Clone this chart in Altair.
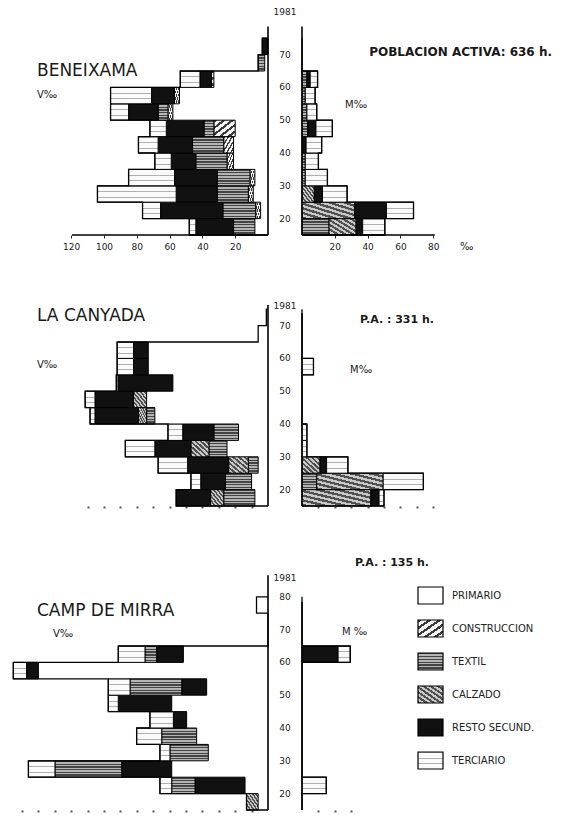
import json
import altair as alt
import pandas as pd

FONT = "DejaVu Sans"

# ---------------- data (per mil of the active population) ----------------
SECTORS = ["PRIMARIO", "CONSTRUCCION", "TEXTIL", "CALZADO", "RESTO SECUND.", "TERCIARIO"]

ORDER_STD = ["PRIMARIO", "CONSTRUCCION", "TEXTIL", "CALZADO", "RESTO SECUND.", "TERCIARIO"]
ORDER_CAMP = ["PRIMARIO", "CONSTRUCCION", "CALZADO", "RESTO SECUND.", "TEXTIL", "TERCIARIO"]

# lower bound of each five-year age group
AGES_BEN = [15, 20, 25, 30, 35, 40, 45, 50, 55, 60, 65, 70]
AGES_CAN = [15, 20, 25, 30, 35, 40, 45, 50, 55, 60, 65, 70]
AGES_CAM = [15, 20, 25, 30, 35, 40, 45, 50, 55, 60, 65, 70, 75]

BEN_V = {
    "PRIMARIO":      [8, 4.5, 9, 8, 21, 21, 20, 58, 54, 33, 2, 0],
    "CONSTRUCCION":  [0, 3, 3, 3, 4, 6, 13, 3, 3, 1.5, 0, 0],
    "TEXTIL":        [13, 20, 19, 20, 19, 19, 6, 6, 0, 0, 4, 0],
    "CALZADO":       [0, 0, 0, 0, 0, 0, 0, 0, 0, 0, 0, 0],
    "RESTO SECUND.": [23, 38, 25, 26, 15, 21, 23, 18, 14, 7, 0, 3.5],
    "TERCIARIO":     [4, 11, 48, 28, 10, 12, 10, 11, 25, 12, 0, 0],
}
BEN_M = {
    "PRIMARIO":      [0, 0, 0, 0, 0, 0, 0, 0, 0, 0, 0, 0],
    "CONSTRUCCION":  [0, 0, 0, 0, 0, 0, 0, 0, 0, 0, 0, 0],
    "TEXTIL":        [16.5, 0, 0, 2, 2, 0, 3.5, 3, 2, 3, 0, 0],
    "CALZADO":       [16.5, 32, 7.5, 0, 0, 0, 0, 0, 0, 0, 0, 0],
    "RESTO SECUND.": [4, 19.5, 5, 0, 0, 2.5, 5, 0, 0, 2, 0, 0],
    "TERCIARIO":     [13.5, 16.5, 15, 13.5, 8, 9.5, 10, 6, 6, 4.5, 0, 0],
}
CAN_V = {
    "PRIMARIO":      [8, 10, 6, 25, 18, 69, 74, 58, 73, 73, 6, 1],
    "CONSTRUCCION":  [0, 0, 0, 0, 0, 0, 0, 0, 0, 0, 0, 0],
    "TEXTIL":        [19, 16, 6, 11, 15, 5, 0, 0, 0, 0, 0, 0],
    "CALZADO":       [8, 0, 12, 11, 0, 5, 8, 0, 0, 0, 0, 0],
    "RESTO SECUND.": [21, 15, 25, 22, 19, 26.5, 23.5, 33.5, 9, 9, 0, 0],
    "TERCIARIO":     [0, 6, 18, 18, 9, 3, 6, 1, 10, 10, 0, 0],
}
CAN_M = {
    "PRIMARIO":      [0, 0, 0, 0, 0, 0, 0, 0, 0, 0, 0, 0],
    "CONSTRUCCION":  [0, 0, 0, 0, 0, 0, 0, 0, 0, 0, 0, 0],
    "TEXTIL":        [0, 9, 0, 0, 0, 0, 0, 0, 0, 0, 0, 0],
    "CALZADO":       [42, 40.5, 11, 0, 0, 0, 0, 0, 0, 0, 0, 0],
    "RESTO SECUND.": [5, 0, 4, 0, 0, 0, 0, 0, 0, 0, 0, 0],
    "TERCIARIO":     [3, 24.5, 13, 3, 3, 0, 0, 0, 7, 0, 0, 0],
}
CAM_V = {
    "PRIMARIO":      [6, 14, 58.7, 36.4, 43.5, 49.6, 58.7, 37.4, 140, 51.6, 0, 0, 7],
    "CONSTRUCCION":  [0, 0, 0, 0, 0, 0, 0, 0, 0, 0, 0, 0, 0],
    "TEXTIL":        [0, 14.2, 40.7, 23.4, 21.3, 0, 0, 31.5, 0, 7.1, 0, 0, 0],
    "CALZADO":       [7.1, 0, 0, 0, 0, 0, 0, 0, 0, 0, 0, 0, 0],
    "RESTO SECUND.": [0, 30.5, 30.5, 0, 0, 8.1, 32.6, 15.2, 7.2, 16.3, 0, 0, 0],
    "TERCIARIO":     [0, 7.2, 16.2, 6.1, 15.3, 14.3, 6.1, 13.3, 8.1, 16.3, 0, 0, 0],
}
CAM_M = {
    "PRIMARIO":      [0, 0, 0, 0, 0, 0, 0, 0, 0, 0, 0, 0, 0],
    "CONSTRUCCION":  [0, 0, 0, 0, 0, 0, 0, 0, 0, 0, 0, 0, 0],
    "TEXTIL":        [0, 0, 0, 0, 0, 0, 0, 0, 0, 0, 0, 0, 0],
    "CALZADO":       [0, 0, 0, 0, 0, 0, 0, 0, 0, 0, 0, 0, 0],
    "RESTO SECUND.": [0, 0, 0, 0, 0, 0, 0, 0, 0, 22, 0, 0, 0],
    "TERCIARIO":     [0, 14.8, 0, 0, 0, 0, 0, 0, 0, 7.4, 0, 0, 0],
}

AGE_LABELS_70 = [20, 30, 40, 50, 60, 70]
AGE_LABELS_80 = [20, 30, 40, 50, 60, 70, 80]

# age at the top of the two central vertical axes (male, female)
AXIS_TOP = {"ben": (78.6, 78.6), "can": (76.3, 73.8), "cam": (86.6, 78.4)}
# Beneixama x baselines (per mil) and tick labels
BEN_BASE = (119.5, 81)
BEN_TICKS_V = [20, 40, 60, 80, 100, 120]
BEN_TICKS_M = [20, 40, 60, 80]
CAN_DOTS_V = [10, 20, 30, 40, 50, 60, 70, 80, 90, 100, 110]
CAN_DOTS_M = [10, 20, 30, 40, 50, 60, 70, 80]
CAM_DOTS_V = [10, 20, 30, 40, 50, 60, 70, 80, 90, 100, 110, 120, 130, 140, 150]
CAM_DOTS_M = [10, 20, 30]

# ---------------- styles: hatched fills emulated with hard-stop gradients ----------------
def stripes(c1, c2, n, frac, x1, y1, x2, y2):
    stops = []
    for i in range(n):
        a, b = i / n, (i + frac) / n
        stops += [{"offset": round(a, 4), "color": c1}, {"offset": round(b, 4), "color": c1},
                  {"offset": round(b, 4), "color": c2}, {"offset": round((i + 1) / n, 4), "color": c2}]
    g = {"gradient": "linear", "x1": x1, "y1": y1, "x2": x2, "y2": y2, "stops": stops}
    return alt.ExprRef(json.dumps(g))


FILL_RANGE = [
    "#ffffff",                                               # primario
    stripes("#3a3a3a", "#f4f4f4", 5, 0.4, 0, 0, 1, 1),       # construccion  ///
    stripes("#444444", "#b4b4b4", 6, 0.5, 0, 0, 0, 1),       # textil  horizontal lines
    stripes("#505050", "#c8c8c8", 7, 0.5, 0, 1, 1, 0),       # calzado  \\\ fine
    "#111111",                                               # resto secundario
    stripes("#b0b0b0", "#fafafa", 3, 0.18, 0, 0, 0, 1),      # terciario  light ruled
]

# ---------------- layout constants ----------------
PX_PER_MIL = 1.64
PX_PER_YEAR = 3.28
WIDTH = 546
W_V, GAP = 260, 34
C = W_V / PX_PER_MIL            # position (per-mil units) of the male axis
F = (W_V + GAP) / PX_PER_MIL    # position of the female axis
XMAX = WIDTH / PX_PER_MIL
HEIGHTS = {"ben": 227, "can": 231, "cam": 264}

CSCALE = alt.Scale(domain=SECTORS, range=FILL_RANGE)
LEGEND = alt.Legend(
    orient="none", legendX=409, legendY=574, title=None,
    symbolType="M-1,-0.68H1V0.68H-1Z", symbolSize=625,
    symbolStrokeColor="black", symbolStrokeWidth=1.2, symbolOpacity=1,
    labelFont=FONT, labelFontSize=10, labelColor="#222", labelOffset=8,
    rowPadding=8,
)


def stack_side(ages, values, order, male):
    rects, outline = [], []
    side = "V" if male else "M"

    def pos(v):
        return C - v if male else F + v

    outline.append({"side": side, "x": pos(0), "y": ages[0], "k": 0})
    k = 1
    for i, a in enumerate(ages):
        acc = 0.0
        for s in order:
            v = values[s][i]
            if v > 0:
                rects.append({"sector": s, "lo": a, "hi": a + 5,
                              "u0": pos(acc), "u1": pos(acc + v)})
                acc += v
        outline.append({"side": side, "x": pos(acc), "y": a, "k": k}); k += 1
        outline.append({"side": side, "x": pos(acc), "y": a + 5, "k": k}); k += 1
    outline.append({"side": side, "x": pos(0), "y": ages[-1] + 5, "k": k})
    return rects, outline


def text_layer(txt, x, y, size=10, weight="normal", align="left"):
    return alt.Chart(pd.DataFrame({"t": [txt]})).mark_text(
        font=FONT, fontSize=size, fontWeight=weight, align=align,
        baseline="middle", color="#1a1a1a",
    ).encode(text="t:N", x=alt.value(x), y=alt.value(y))


def panel(key, ages, vals_v, vals_m, order, ticks_v, ticks_m, labelled, age_labels, texts, baseline=None):
    height = HEIGHTS[key]
    r1, o1 = stack_side(ages, vals_v, order, True)
    r2, o2 = stack_side(ages, vals_m, order, False)
    rect_df = pd.DataFrame(r1 + r2)
    line_df = pd.DataFrame(o1 + o2)

    xs = alt.Scale(domain=[0, XMAX], nice=False, zero=False)
    ys = alt.Scale(domain=[15, 15 + height / PX_PER_YEAR], nice=False, zero=False)
    tick_pos = [round(C - v, 4) for v in ticks_v] + [round(F + v, 4) for v in ticks_m]
    if labelled:
        xaxis = alt.Axis(
            values=tick_pos, domain=False, grid=False, tickSize=3, tickColor="#222",
            labelFont=FONT, labelFontSize=9, labelColor="#222", labelPadding=4,
            labelOverlap=False, labelFlush=False, title=None,
            labelExpr=f"datum.value < {C + 5:.4f} ? format({C:.4f} - datum.value, '.0f') : format(datum.value - {F:.4f}, '.0f')",
        )
    else:
        xaxis = alt.Axis(values=tick_pos, labels=False, domain=False, grid=False,
                         tickSize=2, tickWidth=2, tickColor="#555", title=None)

    def X(f):
        return alt.X(f, scale=xs, axis=xaxis)

    def Y(f):
        return alt.Y(f, scale=ys, axis=None)

    col = alt.Color("sector:N", scale=CSCALE, legend=LEGEND)
    base = alt.Chart(rect_df)
    prim = base.transform_filter(alt.datum.sector == "PRIMARIO").mark_rect(strokeWidth=0).encode(
        x=X("u0:Q"), x2="u1:Q", y=Y("lo:Q"), y2="hi:Q", color=col)
    other = base.transform_filter(alt.datum.sector != "PRIMARIO").mark_rect(
        stroke="black", strokeWidth=1).encode(
        x=X("u0:Q"), x2="u1:Q", y=Y("lo:Q"), y2="hi:Q", color=col)
    outline = alt.Chart(line_df).mark_line(color="black", strokeWidth=1.3).encode(
        x=X("x:Q"), y=Y("y:Q"), detail="side:N", order="k:Q")
    top_v, top_m = AXIS_TOP[key]
    vaxis = alt.Chart(pd.DataFrame({"x": [C, F], "y": [15.0, 15.0], "y2": [top_v, top_m]})).mark_rule(
        color="black", strokeWidth=1.6).encode(x=X("x:Q"), y=Y("y:Q"), y2="y2:Q")
    ages_txt = alt.Chart(pd.DataFrame({"age": age_labels})).mark_text(
        font=FONT, fontSize=9, color="#222", baseline="middle", align="center").encode(
        x=alt.value(W_V + GAP / 2), y=Y("age:Q"), text="age:Q")
    layers = [prim, other, outline, vaxis, ages_txt]
    if baseline is not None:
        bl = alt.Chart(pd.DataFrame({"x": [C - baseline[0], F], "x2": [C, F + baseline[1]],
                                     "y": [15.0, 15.0]})).mark_rule(
            color="black", strokeWidth=1.4).encode(x=X("x:Q"), x2="x2:Q", y=Y("y:Q"))
        layers.append(bl)
    for t in texts:
        layers.append(text_layer(*t))
    return alt.layer(*layers).properties(width=WIDTH, height=height)


ben = panel("ben", AGES_BEN, BEN_V, BEN_M, ORDER_STD, BEN_TICKS_V, BEN_TICKS_M, True, AGE_LABELS_70,
            [("BENEIXAMA", 29, 63, 17), ("V‰", 29, 87, 10), ("1981", 277, 4, 9, "normal", "center"),
             ("POBLACION ACTIVA: 636 h.", 544, 44, 12, "bold", "right"), ("M‰", 337, 97, 10),
             ("‰", 452, 239, 10)],
            baseline=BEN_BASE)

can = panel("can", AGES_CAN, CAN_V, CAN_M, ORDER_STD, CAN_DOTS_V, CAN_DOTS_M, False, AGE_LABELS_70,
            [("LA CANYADA", 29, 41, 17), ("V‰", 29, 90, 10), ("1981", 277, 31, 9, "normal", "center"),
             ("P.A. :  331 h.", 352, 45, 11, "bold"), ("M‰", 342, 95, 10)])

cam = panel("cam", AGES_CAM, CAM_V, CAM_M, ORDER_CAMP, CAM_DOTS_V, CAM_DOTS_M, False, AGE_LABELS_80,
            [("CAMP DE MIRRA", 29, 65, 17), ("V‰", 45, 88, 10), ("1981", 277, 32, 9, "normal", "center"),
             ("P.A. : 135 h.", 347, 17, 11, "bold"), ("M ‰", 334, 86, 10)])

chart = alt.vconcat(ben, can, cam, spacing=40, bounds="flush").properties(
    padding=0, background="white"
).configure_view(strokeWidth=0, stroke="transparent")

chart.save("out.html", embed_options={"renderer": "svg", "actions": False})
